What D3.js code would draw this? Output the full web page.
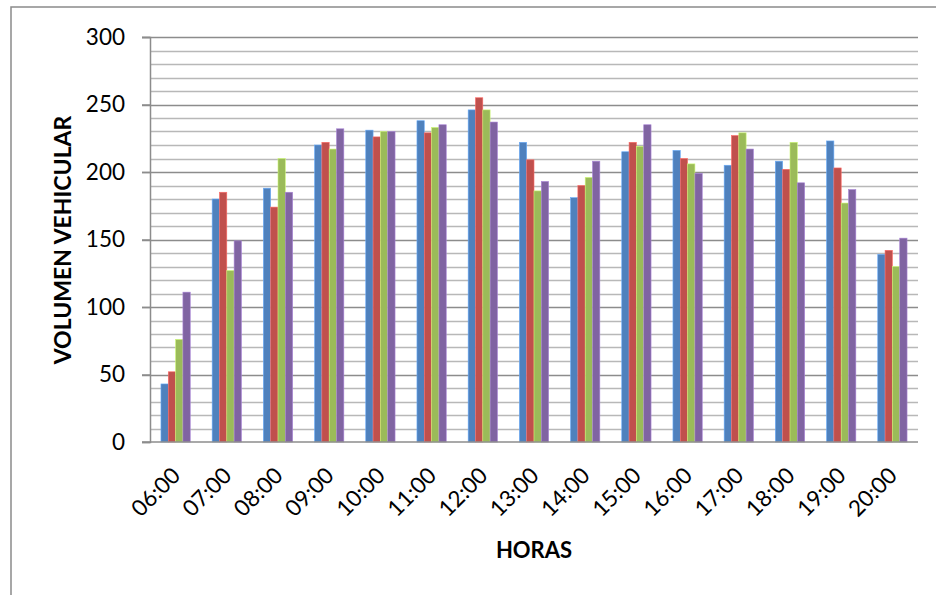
<!DOCTYPE html>
<html>
<head>
<meta charset="utf-8">
<script src="https://cdn.jsdelivr.net/npm/d3@7"></script>
<style>
  html, body { margin: 0; padding: 0; background: #fff; }
  svg { display: block; font-family: Lato, "Open Sans", sans-serif; }
</style>
</head>
<body>
<svg id="chart" width="936" height="595"></svg>
<script>
// Hourly traffic counts, four series per hour
const horas = ["06:00","07:00","08:00","09:00","10:00","11:00","12:00","13:00",
               "14:00","15:00","16:00","17:00","18:00","19:00","20:00"];
const serieAzul    = [43, 180, 188, 220, 231, 238, 246, 222, 181, 215, 216, 205, 208, 223, 139];
const serieRoja    = [52, 185, 174, 222, 226, 229, 255, 209, 190, 222, 210, 227, 202, 203, 142];
const serieVerde   = [76, 127, 210, 217, 230, 233, 246, 186, 196, 219, 206, 229, 222, 177, 130];
const serieMorada  = [111, 149, 185, 232, 230, 235, 237, 193, 208, 235, 199, 217, 192, 187, 151];
const series = [serieAzul, serieRoja, serieVerde, serieMorada];
const colores = ["#4F81BD", "#C0504D", "#9BBB59", "#8064A2"];
const yTicks = [0, 50, 100, 150, 200, 250, 300];
const yMinor = d3.range(0, 301, 10);

const svg = d3.select("#chart");
const plot = { left: 150, right: 918, top: 37, bottom: 442 };

// outer chart frame
svg.append("rect")
  .attr("x", 11).attr("y", 7).attr("width", 940).attr("height", 600)
  .attr("fill", "none").attr("stroke", "#8a8a8a").attr("stroke-width", 1.5);

const y = d3.scaleLinear().domain([0, 300]).range([plot.bottom, plot.top]);
const x = d3.scaleBand().domain(horas).range([plot.left, plot.right])
  .paddingInner(0.428).paddingOuter(0.214);
const xs = d3.scaleBand().domain(d3.range(series.length)).range([0, x.bandwidth()]);

// minor gridlines every 10
svg.append("g").selectAll("line").data(yMinor.filter(v => v % 50 !== 0)).join("line")
  .attr("x1", plot.left).attr("x2", plot.right)
  .attr("y1", d => Math.round(y(d)) + 0.5).attr("y2", d => Math.round(y(d)) + 0.5)
  .attr("stroke", "#b8b8b8").attr("stroke-width", 1.3);

// major gridlines with outer ticks
svg.append("g").selectAll("line").data(yTicks.filter(v => v > 0)).join("line")
  .attr("x1", plot.left - 8).attr("x2", plot.right)
  .attr("y1", d => Math.round(y(d)) + 0.5).attr("y2", d => Math.round(y(d)) + 0.5)
  .attr("stroke", "#8c8c8c").attr("stroke-width", 1.5);

// bars
const grupos = svg.append("g").selectAll("g").data(horas).join("g")
  .attr("transform", d => `translate(${x(d)},0)`);
grupos.selectAll("rect")
  .data((h, i) => series.map((s, k) => ({ k, v: s[i] })))
  .join("rect")
  .attr("x", d => xs(d.k))
  .attr("width", xs.bandwidth())
  .attr("y", d => y(d.v))
  .attr("height", d => y(0) - y(d.v))
  .attr("fill", d => colores[d.k])
  .attr("stroke", d => d3.color(colores[d.k]).brighter(0.8))
  .attr("stroke-width", 0.6);

// y axis
const yAxis = d3.axisLeft(y).tickValues(yTicks).tickSize(8).tickPadding(17);
const gy = svg.append("g").attr("transform", `translate(${plot.left},0)`).call(yAxis);
gy.select(".domain").attr("stroke", "#8c8c8c").attr("stroke-width", 1.5);
gy.selectAll(".tick line").attr("stroke", "#8c8c8c").attr("stroke-width", 1.5);
gy.selectAll(".tick text").attr("font-size", 22.5).attr("fill", "#000")
  .attr("font-family", "Lato, sans-serif");

// x axis baseline
svg.append("line")
  .attr("x1", plot.left - 8).attr("x2", plot.right)
  .attr("y1", y(0)).attr("y2", y(0))
  .attr("stroke", "#8c8c8c").attr("stroke-width", 1.5);

// rotated hour labels
svg.append("g").selectAll("text").data(horas).join("text")
  .attr("transform", d => `translate(${x(d) + x.bandwidth() / 2 - 5},${plot.bottom + 24}) rotate(-45)`)
  .attr("text-anchor", "end")
  .attr("dy", "0.7em")
  .attr("font-size", 22.5)
  .attr("fill", "#000")
  .text(d => d);

// axis titles
svg.append("text")
  .attr("transform", `translate(${71},${240}) rotate(-90)`)
  .attr("text-anchor", "middle")
  .attr("font-size", 23).attr("font-weight", "bold")
  .text("VOLUMEN VEHICULAR");

svg.append("text")
  .attr("x", 534).attr("y", 558)
  .attr("text-anchor", "middle")
  .attr("font-size", 22).attr("font-weight", "bold")
  .text("HORAS");
</script>
</body>
</html>
